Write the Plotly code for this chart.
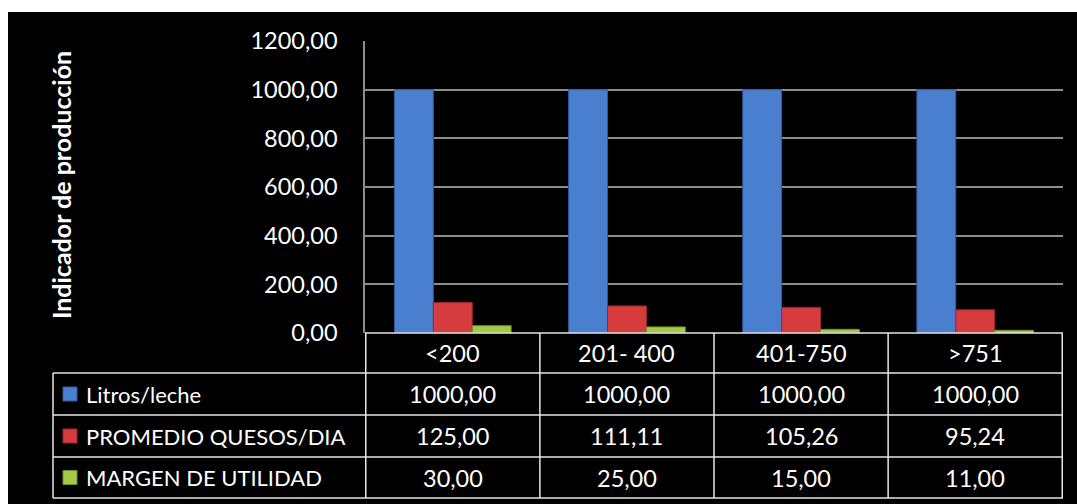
import plotly.graph_objects as go

categories = ["<200", "201- 400", "401-750", ">751"]
series_names = ["Litros/leche", "PROMEDIO QUESOS/DIA", "MARGEN DE UTILIDAD"]
litros = [1000.00, 1000.00, 1000.00, 1000.00]
quesos = [125.00, 111.11, 105.26, 95.24]
margen = [30.00, 25.00, 15.00, 11.00]
y_ticks = [0, 200, 400, 600, 800, 1000, 1200]

series_values = [litros, quesos, margen]
colors = ["#4A7FCF", "#D63C3D", "#A2CB45"]
line_colors = ["#2F5C9E", "#A02628", "#6F9226"]

W, H = 1077, 504
FONT = "Lato"


def px(x):
    return x / W


def py(y):
    return 1 - y / H


fig = go.Figure()
for name, vals, c, lc in zip(series_names, series_values, colors, line_colors):
    fig.add_trace(go.Bar(x=categories, y=vals, name=name,
                         marker=dict(color=c, line=dict(color=lc, width=1))))

plot_left, plot_right, plot_top, plot_bottom = 365, 1063, 41, 333
row_edges = [333, 373, 415, 457, 498]
table_left = 53

shapes = []
# black background panel
shapes.append(dict(type="rect", xref="paper", yref="paper", x0=px(8), x1=px(1077),
                   y0=py(504), y1=py(12), fillcolor="black", line=dict(width=0), layer="below"))
lc_tab = "#E6E6E6"
# horizontal table lines
shapes.append(dict(type="line", xref="paper", yref="paper", x0=px(plot_left), x1=px(plot_right),
                   y0=py(row_edges[0]), y1=py(row_edges[0]), line=dict(color=lc_tab, width=1.5)))
for r in row_edges[1:]:
    shapes.append(dict(type="line", xref="paper", yref="paper", x0=px(table_left), x1=px(plot_right),
                       y0=py(r), y1=py(r), line=dict(color=lc_tab, width=1.5)))
# vertical table lines
shapes.append(dict(type="line", xref="paper", yref="paper", x0=px(table_left), x1=px(table_left),
                   y0=py(row_edges[1]), y1=py(row_edges[-1]), line=dict(color=lc_tab, width=1.5)))
for i in range(len(categories) + 1):
    shapes.append(dict(type="line", xref="x", yref="paper", x0=i - 0.5, x1=i - 0.5,
                       y0=py(row_edges[0]), y1=py(row_edges[-1]), line=dict(color=lc_tab, width=1.5)))
# legend keys
for k, (c, lc) in enumerate(zip(colors, line_colors)):
    yc = (row_edges[k + 1] + row_edges[k + 2]) / 2
    shapes.append(dict(type="rect", xref="paper", yref="paper", x0=px(63), x1=px(77),
                       y0=py(yc + 7), y1=py(yc - 7), fillcolor=c, line=dict(color=lc, width=1)))

annotations = []
fs = 23.5
fs_lab = 22
# header row
for i, cat in enumerate(categories):
    annotations.append(dict(x=i, y=py((row_edges[0] + row_edges[1]) / 2), xref="x", yref="paper",
                            text=cat, showarrow=False, font=dict(color="white", size=fs, family=FONT),
                            xanchor="center", yanchor="middle"))
for k, (name, vals) in enumerate(zip(series_names, series_values)):
    yc = py((row_edges[k + 1] + row_edges[k + 2]) / 2)
    annotations.append(dict(x=px(84), y=yc, xref="paper", yref="paper", text=name, showarrow=False,
                            font=dict(color="white", size=fs_lab, family=FONT), xanchor="left", yanchor="middle"))
    for i, v in enumerate(vals):
        annotations.append(dict(x=i, y=yc, xref="x", yref="paper", text=f"{v:.2f}".replace(".", ","),
                                showarrow=False, font=dict(color="white", size=fs, family=FONT),
                                xanchor="center", yanchor="middle"))
# y axis title
annotations.append(dict(x=px(61), y=py(185), xref="paper", yref="paper", text="<b>Indicador de producción</b>",
                        textangle=-90, showarrow=False, font=dict(color="white", size=25, family=FONT),
                        xanchor="center", yanchor="middle"))

fig.update_layout(
    width=W, height=H, margin=dict(l=0, r=0, t=0, b=0, pad=0, autoexpand=False),
    paper_bgcolor="white", plot_bgcolor="black",
    barmode="group", bargap=0.33, bargroupgap=0,
    showlegend=False, separators=",.",
    shapes=shapes, annotations=annotations,
    xaxis=dict(domain=[px(plot_left), px(plot_right)], showticklabels=False, showgrid=False,
               zeroline=False, showline=False, ticks="", automargin=False),
    yaxis=dict(domain=[py(plot_bottom), py(plot_top)], range=[0, 1200], tickvals=y_ticks,
               tickformat=".2f", showgrid=True, gridcolor="#8C8C8C", gridwidth=1.5,
               zeroline=False, showline=True, linecolor="#8C8C8C", linewidth=1.5,
               ticks="", ticklabelstandoff=21, automargin=False,
               tickfont=dict(color="white", size=fs, family=FONT)),
)

fig.write_html("out.html")
